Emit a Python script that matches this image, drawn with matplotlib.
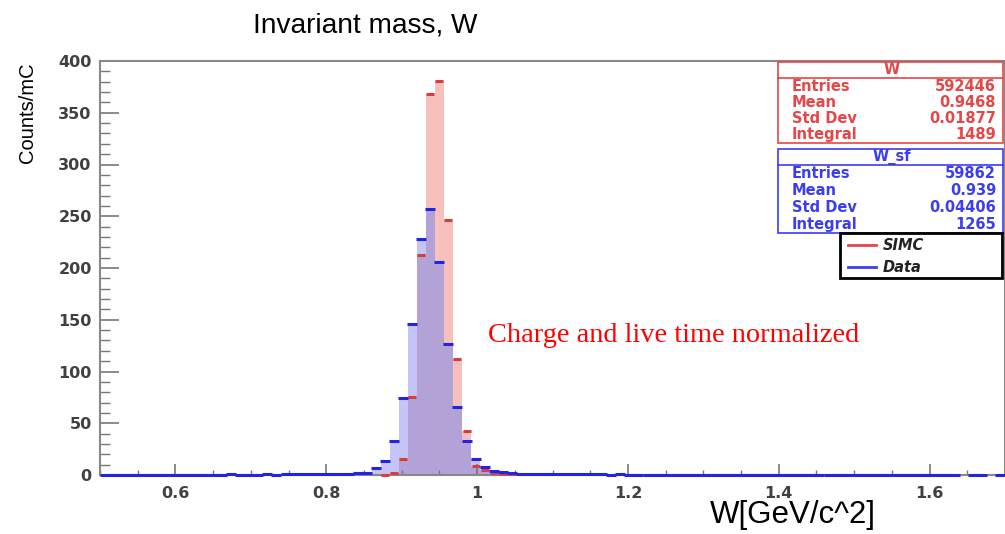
import numpy as np
import matplotlib.pyplot as plt
from matplotlib.patches import Rectangle
from matplotlib.lines import Line2D
from matplotlib.ticker import MultipleLocator, FuncFormatter

# histogram binning: 100 bins of 0.012 from 0.5 to 1.7
bin_edges = np.round(np.linspace(0.5, 1.7, 101), 4)

# Data (W_sf), counts/mC per bin
data_counts = [
    0.3, 0.2, 0.3, 0.4, 0.2, 0.3, 0.3, 0.2, 0.4, 0.3,
    0.3, 0.4, 0.3, 0.3, 0.5, 0.4, 0.3, 0.4, 0.5, 0.4,
    0.5, 0.6, 0.5, 0.7, 0.9, 0.8, 1.0, 1.3, 1.6, 2.2,
    6.3, 13.5, 32.5, 74, 146, 228, 257, 205.5, 126.5, 66,
    33, 15.5, 7.5, 4, 2.5, 1.8, 1.4, 1.1, 0.9, 0.8,
    0.7, 0.6, 0.6, 0.5, 0.5, 0.5, 0.4, 0.5, 0.4, 0.4,
    0.4, 0.3, 0.4, 0.3, 0.3, 0.4, 0.3, 0.3, 0.3, 0.3,
    0.3, 0.3, 0.2, 0.3, 0.3, 0.2, 0.3, 0.2, 0.2, 0.3,
    0.2, 0.2, 0.1, 0.2, 0.2, 0.1, 0.2, 0.1, 0.2, 0.1,
    0.1, 0.1, 0.2, 0.1, 0.1, 0.0, 0.1, 0.1, 0.0, 0.1,
]

# SIMC (W), counts/mC per bin
simc_counts = [0.0] * 100
simc_peak = [0.2, 2, 15.5, 75.7, 212.5, 368, 381, 246, 112, 42.5, 9, 5, 2, 1, 0.5]
simc_counts[31:31 + len(simc_peak)] = simc_peak

stat_names = ["Entries", "Mean", "Std Dev", "Integral"]
simc_stats = ["592446", "0.9468", "0.01877", "1489"]
data_stats = ["59862", "0.939", "0.04406", "1265"]

W_PX, H_PX = 1005, 534


def fx(px):
    return px / W_PX


def fy(py):
    return 1 - py / H_PX


fig = plt.figure(figsize=(W_PX / 100, H_PX / 100), dpi=100)
ax = fig.add_axes([fx(100), fy(475), 905 / W_PX, 414 / H_PX])

left = bin_edges[:-1]
width = np.diff(bin_edges)
centers = left + width / 2
simc = np.array(simc_counts)
data = np.array(data_counts)

ax.bar(left, simc, width=width, align='edge', color='#f6c0bc', lw=0)
ax.bar(left, data, width=width, align='edge', color='#c4c5f6', lw=0)
ax.bar(left, np.minimum(simc, data), width=width, align='edge', color='#b3a2d8', lw=0)

sm = simc > 0
ax.plot(centers[sm], simc[sm], ls='none', marker='_', ms=6, mew=2.2,
        color='#d83c3c', clip_on=False, zorder=3)
dm = data > 0
ax.plot(centers[dm], data[dm], ls='none', marker='_', ms=6.5, mew=2.2,
        color='#2424e0', clip_on=False, zorder=3)

ax.set_xlim(0.5, 1.7)
ax.set_ylim(0, 400)
ax.xaxis.set_major_locator(MultipleLocator(0.2))
ax.xaxis.set_minor_locator(MultipleLocator(0.05))
ax.yaxis.set_major_locator(MultipleLocator(50))
ax.yaxis.set_minor_locator(MultipleLocator(10))
ax.xaxis.set_major_formatter(FuncFormatter(lambda v, p: f"{v:g}"))

ax.tick_params(axis='y', which='major', direction='in', length=14, width=1.2,
               color='#777777', pad=6)
ax.tick_params(axis='y', which='minor', direction='in', length=7, width=1,
               color='#777777')
ax.tick_params(axis='x', which='major', direction='in', length=8, width=1.2,
               color='#777777', pad=8)
ax.tick_params(axis='x', which='minor', direction='in', length=3.5, width=1,
               color='#777777')
for lab in ax.get_xticklabels() + ax.get_yticklabels():
    lab.set_fontfamily('DejaVu Sans')
    lab.set_fontweight('bold')
    lab.set_fontsize(11.5)
    lab.set_color('#404040')

for s in ['left', 'bottom', 'top', 'right']:
    ax.spines[s].set_color('#888888')
    ax.spines[s].set_linewidth(1.5)

# titles and labels
fig.text(fx(253), fy(25), "Invariant mass, W", fontsize=20.2,
         family='Liberation Sans', ha='left', va='center')
fig.text(fx(793), fy(515), "W[GeV/c^2]", fontsize=22.5,
         family='Liberation Sans', ha='center', va='center')
fig.text(fx(28), fy(62), "Counts/mC", rotation=90, fontsize=14.5,
         family='Liberation Sans', ha='center', va='top')
ax.text(0.5 + (488 - 100) / 755, (475 - 342) / 1.035, "Charge and live time normalized",
        fontsize=20.4, family='Liberation Serif', color='red', ha='left', va='baseline')


# statistics boxes
def stats_box(top, head_bottom, bottom, title, values, color):
    fig.add_artist(Rectangle((fx(778), fy(bottom)), fx(1003) - fx(778),
                             fy(top) - fy(bottom), transform=fig.transFigure,
                             facecolor='white', edgecolor=color, lw=1.2))
    fig.add_artist(Line2D([fx(778), fx(1003)], [fy(head_bottom), fy(head_bottom)],
                          transform=fig.transFigure, color=color, lw=1.2))
    fig.text(fx(892), fy((top + head_bottom) / 2), title, color=color,
             fontsize=10.5, family='DejaVu Sans', weight='bold', ha='center', va='center')
    row_h = (bottom - head_bottom) / len(values)
    for i, (name, val) in enumerate(zip(stat_names, values)):
        yy = head_bottom + row_h * (i + 0.5)
        fig.text(fx(792), fy(yy), name, color=color, fontsize=10.5,
                 family='DejaVu Sans', weight='bold', ha='left', va='center')
        fig.text(fx(996), fy(yy), val, color=color, fontsize=10.5,
                 family='DejaVu Sans', weight='bold', ha='right', va='center')


stats_box(62, 78, 143, "W", simc_stats, '#e64646')
stats_box(149, 165, 233, "W_sf", data_stats, '#3c3cf0')

# legend box
fig.add_artist(Rectangle((fx(840), fy(278)), fx(1002) - fx(840), fy(233) - fy(278),
                         transform=fig.transFigure, facecolor='white',
                         edgecolor='black', lw=2))
for yy, lab, col in [(245, "SIMC", '#e64646'), (267, "Data", '#3c3cf0')]:
    fig.add_artist(Line2D([fx(848), fx(876)], [fy(yy), fy(yy)],
                          transform=fig.transFigure, color=col, lw=2))
    fig.text(fx(883), fy(yy), lab, fontsize=10.5, family='DejaVu Sans',
             weight='bold', style='italic', ha='left', va='center', color='#222222')

fig.savefig('out.png', dpi=100)
